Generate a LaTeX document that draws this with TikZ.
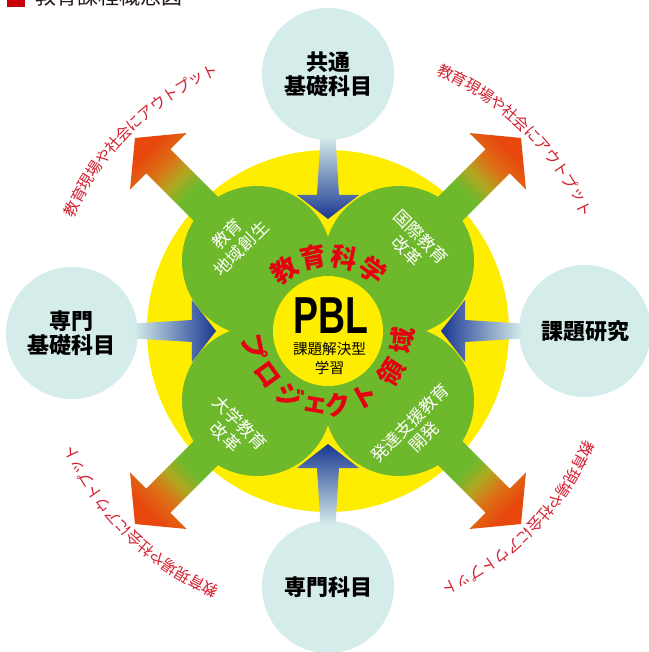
\documentclass[tikz,border=0pt]{standalone}
\usepackage{fontspec}
\newfontfamily\jp{Noto Sans CJK JP}
\newfontfamily\lat{Liberation Sans}
\usetikzlibrary{calc}
\definecolor{ylw}{RGB}{255,237,0}
\definecolor{grn}{RGB}{110,184,44}
\definecolor{cyanl}{RGB}{212,236,234}
\definecolor{dblue}{RGB}{25,55,145}
\definecolor{orA}{RGB}{232,72,14}
\definecolor{orB}{RGB}{220,112,22}
\definecolor{olv}{RGB}{178,166,32}
\definecolor{redA}{RGB}{230,0,18}
\definecolor{redB}{RGB}{210,32,48}
\definecolor{titred}{RGB}{200,0,10}
\definecolor{titcol}{RGB}{35,24,21}
\pgfdeclareverticalshading{outgrad}{100bp}{color(0bp)=(grn); color(40bp)=(grn); color(50bp)=(olv); color(60bp)=(orB); color(72bp)=(orA); color(100bp)=(orA)}
\begin{document}
\begin{tikzpicture}[x=1pt,y=1pt,
  bub/.style={circle, fill=cyanl, minimum size=132pt, inner sep=0pt, align=center,
    font=\jp\bfseries\fontsize{22}{24}\selectfont, text=black},
  wlbl/.style={align=center, inner sep=0pt, text=white, font=\jp\fontsize{17}{21}\selectfont},
  arcred/.style={inner sep=0pt, text=redA, font=\jp\bfseries\fontsize{26}{26}\selectfont},
  outtxt/.style={inner sep=0pt, text=redB, font=\jp\fontsize{15.5}{15.5}\selectfont}]
\useasboundingbox (-328,-321) rectangle (320,331);

% title (cut at top edge)
\fill[titred] (-321,324) rectangle (-303,342);
\node[anchor=base west, inner sep=0pt, text=titcol, font=\jp\fontsize{21}{21}\selectfont] (title) at (-293,326) {教育課程概念図};

% central disc and clover
\fill[ylw] (0,0) circle (181);
\fill[grn] (0,0) circle (90);
\foreach \x/\y in {71/70,-71/70,-71/-70,71/-70} \fill[grn] (\x,\y) circle (75);
\fill[ylw] (0,0) circle (55);

% diagonal output arrows
\foreach \a in {45,135,225,315}{
  \pgfmathsetmacro\sa{\a-90}
  \pgfmathsetmacro\ap{\a+90}
  \pgfmathsetmacro\am{\a-90}
  \shade[shading=outgrad, shading angle=\sa]
    ($(\a:165)+(\ap:17)$) -- ($(\a:240)+(\ap:17)$) -- ($(\a:240)+(\ap:40)$) -- (\a:273)
    -- ($(\a:240)+(\am:40)$) -- ($(\a:240)+(\am:17)$) -- ($(\a:165)+(\am:17)$) -- cycle;
}

% input bubbles
\node[bub] (top) at (0,257) {共通\\基礎科目};
\node[bub] (left) at (-256,-2) {専門\\基礎科目};
\node[bub] (right) at (257,0) {課題研究};
\node[bub] (bottom) at (0,-256) {専門科目};

% blue input arrows
\shade[top color=cyanl, bottom color=dblue]
  (-7.5,194) -- (-11,136) -- (-31,136) -- (0,112) -- (31,136) -- (11,136) -- (7.5,194) -- cycle;
\shade[top color=dblue, bottom color=cyanl]
  (-7.5,-194) -- (-11,-137) -- (-31,-137) -- (0,-113) -- (31,-137) -- (11,-137) -- (7.5,-194) -- cycle;
\shade[left color=cyanl, right color=dblue]
  (-194,-7.5) -- (-136,-11) -- (-136,-31) -- (-112,0) -- (-136,31) -- (-136,11) -- (-194,7.5) -- cycle;
\shade[left color=dblue, right color=cyanl]
  (194,-7.5) -- (137,-11) -- (137,-31) -- (113,0) -- (137,31) -- (137,11) -- (194,7.5) -- cycle;

% centre
\node[inner sep=0pt, font=\lat\bfseries\fontsize{52}{52}\selectfont, xscale=0.72] (pbl) at (3,15.5) {PBL};
\node[inner sep=0pt, align=center, font=\jp\fontsize{14.6}{19}\selectfont] (pblsub) at (1.5,-27.5) {課題解決型\\学習};

% green petal labels
\node[wlbl, rotate=45] (g1) at (-94,90) {教育\\地域創生};
\node[wlbl, rotate=-45] (g2) at (86,87) {国際教育\\改革};
\node[wlbl, rotate=-45] (g3) at (-95,-99) {大学教育\\改革};
\node[wlbl, rotate=45] (g4) at (89,-99) {発達支援教育\\開発};

% red arc texts
\foreach \ch/\ang [count=\i] in {教/125,育/101.6,科/77.7,学/53.6}{
  \pgfmathsetmacro\rot{\ang-90}
  \node[arcred, rotate=\rot] (ka\i) at (\ang:75) {\ch};
}
\foreach \ch/\ang [count=\i] in {プ/192,ロ/216,ジ/239,ェ/260,ク/278,ト/299,領/327,域/353}{
  \pgfmathsetmacro\rot{\ang+90}
  \node[arcred, rotate=\rot] (pj\i) at (\ang:75) {\ch};
}

% outer output texts
\foreach \c [count=\k] in {134.5,45.5,225.5,315.5}{
  \foreach \ch [count=\i] in {教,育,現,場,や,社,会,に,ア,ウ,ト,プ,ッ,ト}{
    \pgfmathsetmacro\ang{\c+20-(\i-1)*3.08}
    \pgfmathsetmacro\rot{\ang-90}
    \node[outtxt, rotate=\rot] (o\k-\i) at (\ang:284) {\ch};
  }
}
\end{tikzpicture}
\end{document}
